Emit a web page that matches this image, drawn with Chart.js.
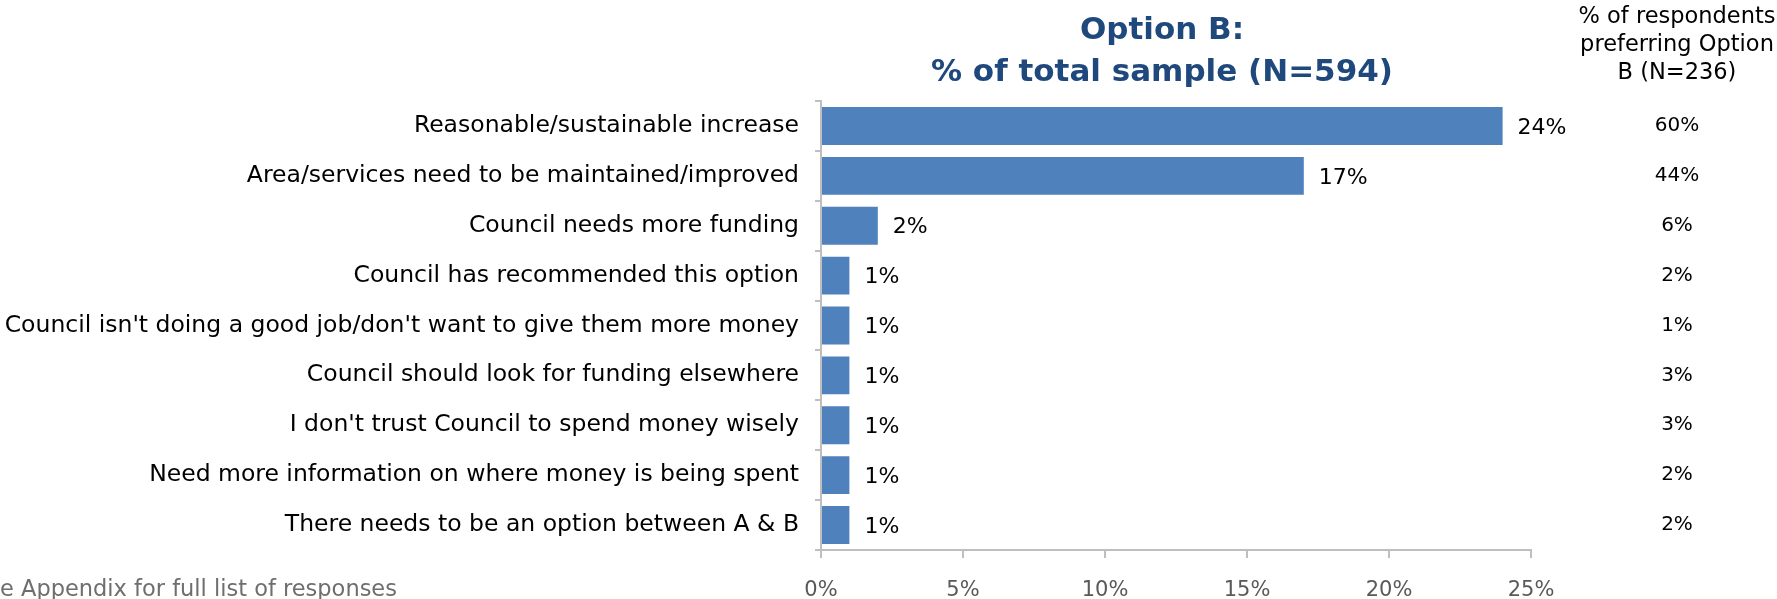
<!DOCTYPE html>
<html>
<head>
<meta charset="utf-8">
<title>Option B reasons</title>
<script src="https://cdn.jsdelivr.net/npm/chart.js@4.4.1/dist/chart.umd.min.js"></script>
<style>
  html, body { margin: 0; padding: 0; background: #ffffff; }
  #wrap { position: relative; width: 1777px; height: 599px; }
</style>
</head>
<body>
<div id="wrap"><canvas id="reasonChart" width="1777" height="599"></canvas></div>
<script>
// reasons given for choosing Option B
const categories = [
    "Reasonable/sustainable increase",
    "Area/services need to be maintained/improved",
    "Council needs more funding",
    "Council has recommended this option",
    "Council isn't doing a good job/don't want to give them more money",
    "Council should look for funding elsewhere",
    "I don't trust Council to spend money wisely",
    "Need more information on where money is being spent",
    "There needs to be an option between A & B"
];
// % of total sample (N=594)
const totalSample = [24, 17, 2, 1, 1, 1, 1, 1, 1];
// % of respondents preferring Option B (N=236)
const preferringB = [60, 44, 6, 2, 1, 3, 3, 2, 2];
const xTicks = [0, 5, 10, 15, 20, 25];

const titleLines = ["Option B:", "% of total sample (N=594)"];
const sideHeader = ["% of respondents", "preferring Option", "B (N=236)"];
const footNote = "e Appendix for full list of responses";

const FONT = "'DejaVu Sans', sans-serif";

// bar value labels, right column, titles and footnote
const extraText = {
    id: 'extraText',
    afterDatasetsDraw(chart) {
        const ctx = chart.ctx;
        const meta = chart.getDatasetMeta(0);
        const yScale = chart.scales.y;
        ctx.save();

        ctx.font = "22px " + FONT;
        ctx.fillStyle = '#000000';
        ctx.textAlign = 'left';
        ctx.textBaseline = 'middle';
        meta.data.forEach(function (bar, i) {
            ctx.fillText(totalSample[i] + '%', bar.x + 15, bar.y + 2);
        });

        ctx.font = "20px " + FONT;
        ctx.textAlign = 'center';
        preferringB.forEach(function (v, i) {
            ctx.fillText(v + '%', 1677, yScale.getPixelForValue(i));
        });

        ctx.font = "22.5px " + FONT;
        sideHeader.forEach(function (line, i) {
            ctx.fillText(line, 1677, 17 + i * 28);
        });

        ctx.font = "bold 31px " + FONT;
        ctx.fillStyle = '#1F497D';
        titleLines.forEach(function (line, i) {
            ctx.fillText(line, 1162, 31 + i * 42);
        });

        ctx.font = "22.5px " + FONT;
        ctx.fillStyle = '#6E6E6E';
        ctx.textAlign = 'left';
        ctx.fillText(footNote, 0, 590);
        ctx.restore();
    }
};

new Chart(document.getElementById('reasonChart').getContext('2d'), {
    type: 'bar',
    data: {
        labels: categories,
        datasets: [{
            label: '% of total sample',
            data: totalSample,
            backgroundColor: '#4F81BD',
            borderWidth: 0,
            barPercentage: 0.76,
            categoryPercentage: 1.0
        }]
    },
    options: {
        indexAxis: 'y',
        responsive: false,
        animation: false,
        layout: { padding: { top: 101, right: 246, left: 0, bottom: 0 } },
        plugins: {
            legend: { display: false },
            tooltip: { enabled: false },
            title: { display: false }
        },
        scales: {
            x: {
                min: 0,
                max: 25,
                afterBuildTicks: function (scale) {
                    scale.ticks = xTicks.map(function (v) { return { value: v }; });
                },
                afterFit: function (scale) { scale.height = 49; },
                ticks: {
                    callback: function (v) { return v + '%'; },
                    color: '#595959',
                    font: { family: FONT, size: 21 },
                    padding: 20
                },
                grid: { drawOnChartArea: false, color: '#BFBFBF', lineWidth: 2, tickLength: 8 },
                border: { color: '#BFBFBF', width: 2 }
            },
            y: {
                afterFit: function (scale) { scale.width = 821; },
                ticks: {
                    color: '#000000',
                    font: { family: FONT, size: 23.5 },
                    padding: 16
                },
                grid: { drawOnChartArea: false, color: '#BFBFBF', lineWidth: 2, tickLength: 6 },
                border: { color: '#BFBFBF', width: 2 }
            }
        }
    },
    plugins: [extraText]
});
</script>
</body>
</html>
